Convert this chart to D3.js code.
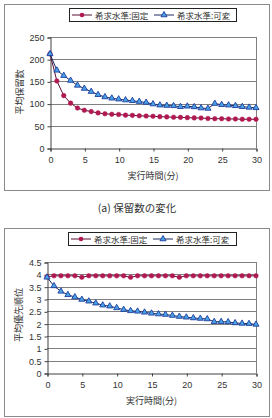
<!DOCTYPE html>
<html><head><meta charset="utf-8">
<script src="https://cdn.jsdelivr.net/npm/d3@7"></script>
<style>
html,body{margin:0;padding:0;background:#fff;}
svg{display:block;}
</style></head>
<body>
<svg id="c" width="272" height="418"></svg>
<script>
// ---- data ----
const minutes = [0,1,2,3,4,5,6,7,8,9,10,11,12,13,14,15,16,17,18,19,20,21,22,23,24,25,26,27,28,29,30];
const seriesNames = ["希求水準:固定", "希求水準:可変"];
const retainFixed = [212,151,118,101,90,85,82,79,77,76,75.5,74,73.5,72.5,72,71.5,70.6,70,69.2,69,68.4,67.8,67.5,66.5,66,66,65.4,65.4,64.8,64.7,64.6];
const retainVar   = [212,175,163,152,141,134,127,120,115,112,110,108,106.5,104.5,102.5,99,96.5,95.6,95,93,94,92.6,90,89,100,97.5,96.5,95,93,91.5,90.5];
const prioFixed = [3.9,3.94,3.94,3.94,3.94,3.88,3.94,3.94,3.94,3.94,3.94,3.94,3.88,3.94,3.94,3.94,3.94,3.94,3.94,3.88,3.94,3.94,3.94,3.94,3.94,3.94,3.94,3.94,3.94,3.94,3.94];
const prioVar   = [3.88,3.53,3.31,3.17,3.08,2.98,2.91,2.83,2.75,2.71,2.64,2.57,2.52,2.5,2.46,2.42,2.39,2.37,2.33,2.29,2.26,2.23,2.21,2.19,2.08,2.08,2.07,2.03,2.01,2.0,1.97];
const xTicks = [0,5,10,15,20,25,30];
const retainTicks = [0,50,100,150,200,250];
const prioTicks = [0,0.5,1,1.5,2,2.5,3,3.5,4,4.5];
const xTitle = "実行時間(分)";
const caption = "(a) 保留数の変化";

const svg = d3.select("#c");
const JP = "'Noto Sans CJK JP','Noto Sans',sans-serif";
const NUM = "'Liberation Sans',Arial,sans-serif";
const RED = "#b01852", RED_LINE = "#5a1030";
const BLUE_FILL = "#4aa3e6", BLUE_STROKE = "#1c3c9c", BLUE_LINE = "#1a2a60";

function drawChart(o) {
  const g = svg.append("g");
  // frame
  g.append("rect").attr("x", o.frame[0]+0.5).attr("y", o.frame[1]+0.5)
    .attr("width", o.frame[2]).attr("height", o.frame[3])
    .attr("fill", "#fff").attr("stroke", "#8a8a8a").attr("stroke-width", 1);

  const x = d3.scaleLinear().domain([0,30]).range([o.left, o.right]);
  const y = d3.scaleLinear().domain(o.yDomain).range([o.bottom, o.top]);

  // gridlines
  g.append("g").selectAll("line").data(o.yTicks.filter(d => d > o.yDomain[0]))
    .join("line")
    .attr("x1", o.left).attr("x2", o.right)
    .attr("y1", d => Math.round(y(d))+0.5).attr("y2", d => Math.round(y(d))+0.5)
    .attr("stroke", "#808080").attr("stroke-width", 1);
  // right border
  g.append("line").attr("x1", o.right+0.5).attr("x2", o.right+0.5)
    .attr("y1", Math.round(y(o.yDomain[1]))).attr("y2", o.bottom)
    .attr("stroke", "#808080");

  // axes
  const yAxis = d3.axisLeft(y).tickValues(o.yTicks).tickSize(3).tickFormat(d => String(d));
  const ya = g.append("g").attr("transform", `translate(${o.left+0.5},0.5)`).call(yAxis);
  const xAxis = d3.axisBottom(x).tickValues(xTicks).tickSize(3).tickFormat(d => String(d));
  const xa = g.append("g").attr("transform", `translate(0.5,${Math.round(o.bottom)+0.5})`).call(xAxis);
  [ya, xa].forEach(a => {
    a.select(".domain").attr("stroke", "#404040");
    a.selectAll(".tick line").attr("stroke", "#404040");
    a.selectAll("text").attr("font-family", NUM).attr("font-size", 9).attr("fill", "#333");
  });
  ya.selectAll("text").attr("x", -6);
  xa.selectAll("text").attr("y", 8);

  // lines
  const line = d3.line().x((d,i) => x(minutes[i])).y(d => y(d));
  g.append("path").datum(o.fixed).attr("d", line).attr("fill", "none")
    .attr("stroke", RED_LINE).attr("stroke-width", 1);
  g.append("path").datum(o.variable).attr("d", line).attr("fill", "none")
    .attr("stroke", BLUE_LINE).attr("stroke-width", 1);

  // markers
  g.append("g").selectAll("circle").data(o.fixed).join("circle")
    .attr("cx", (d,i) => x(minutes[i])).attr("cy", d => y(d)).attr("r", 2.3)
    .attr("fill", RED).attr("stroke", RED).attr("stroke-width", 0.5);
  const tri = d3.symbol().type(d3.symbolTriangle).size(16);
  g.append("g").selectAll("path").data(o.variable).join("path")
    .attr("d", tri)
    .attr("transform", (d,i) => `translate(${x(minutes[i])},${y(d)})`)
    .attr("fill", BLUE_FILL).attr("stroke", BLUE_STROKE).attr("stroke-width", 0.9);

  // y title (vertical)
  const yt = g.append("text")
    .attr("transform", `translate(${o.yTitleX},${o.yTitleY}) rotate(-90)`)
    .attr("text-anchor", "middle").attr("dominant-baseline", "central")
    .attr("font-family", JP).attr("font-size", 9).attr("fill", "#333")
    .text(o.yTitle);

  // x title
  g.append("text").attr("x", (o.left+o.right)/2).attr("y", o.xTitleY)
    .attr("text-anchor", "middle").attr("dominant-baseline", "central")
    .attr("font-family", JP).attr("font-size", 9).attr("fill", "#333").text(xTitle);

  // legend
  const L = o.legend;
  g.append("rect").attr("x", L[0]+0.5).attr("y", L[1]+0.5).attr("width", L[2]).attr("height", L[3])
    .attr("fill", "#fff").attr("stroke", "#222").attr("stroke-width", 1);
  const ly = L[1] + L[3]/2 + 0.5;
  const items = [
    {name: seriesNames[0], x0: L[0]+3, type: "c"},
    {name: seriesNames[1], x0: L[0]+85, type: "t"}
  ];
  items.forEach(it => {
    g.append("line").attr("x1", it.x0).attr("x2", it.x0+20).attr("y1", ly).attr("y2", ly)
      .attr("stroke", it.type === "c" ? RED_LINE : BLUE_LINE).attr("stroke-width", 1);
    if (it.type === "c") {
      g.append("circle").attr("cx", it.x0+10).attr("cy", ly).attr("r", 2.3).attr("fill", RED);
    } else {
      g.append("path").attr("d", tri).attr("transform", `translate(${it.x0+10},${ly})`)
        .attr("fill", BLUE_FILL).attr("stroke", BLUE_STROKE).attr("stroke-width", 0.9);
    }
    g.append("text").attr("x", it.x0+23).attr("y", ly).attr("dominant-baseline", "central")
      .attr("font-family", JP).attr("font-size", 8.5).attr("fill", "#333").text(it.name);
  });
}

drawChart({
  frame: [4, 4, 265, 186],
  left: 50, right: 256, top: 37, bottom: 148,
  yDomain: [0, 250], yTicks: retainTicks,
  fixed: retainFixed, variable: retainVar,
  yTitle: "平均保留数", yTitleX: 19, yTitleY: 92,
  xTitleY: 175,
  legend: [69, 8, 167, 13]
});

svg.append("text").attr("x", 137).attr("y", 207)
  .attr("text-anchor", "middle").attr("dominant-baseline", "central")
  .attr("font-family", JP).attr("font-size", 10.5).attr("fill", "#333").text(caption);

drawChart({
  frame: [4, 228, 265, 188],
  left: 47, right: 256, top: 262, bottom: 373,
  yDomain: [0, 4.5], yTicks: prioTicks,
  fixed: prioFixed, variable: prioVar,
  yTitle: "平均優先順位", yTitleX: 18, yTitleY: 315,
  xTitleY: 400,
  legend: [68, 232, 168, 13]
});
</script>
</body></html>
